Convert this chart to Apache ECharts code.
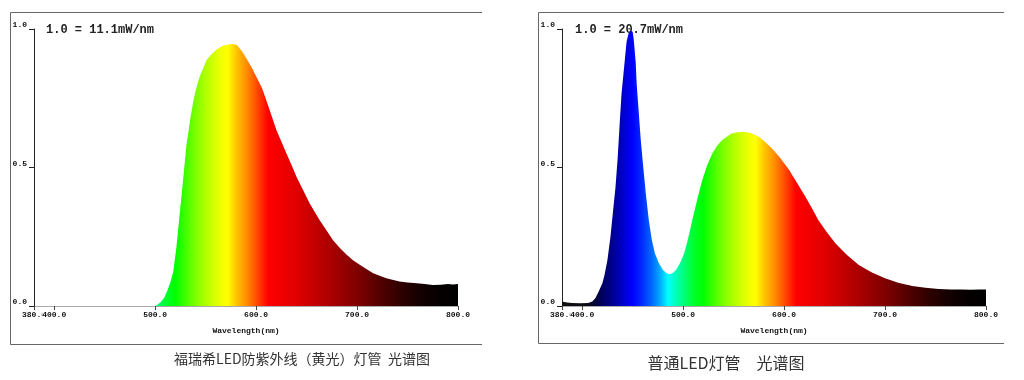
<!DOCTYPE html>
<html>
<head>
<meta charset="utf-8">
<script src="https://cdn.jsdelivr.net/npm/echarts@6/dist/echarts.min.js"></script>
<style>html,body{margin:0;padding:0;background:#fff}#c{width:1024px;height:380px}</style>
</head>
<body>
<div id="c"></div>
<script>
// ---- data (wavelength nm, relative intensity) ----
const leftWavelengths = [380, 500, 503, 506, 509, 512, 515, 518, 521, 524, 527, 531, 535, 538, 541, 544, 548, 551, 556, 561, 566, 572, 577, 581, 586, 591, 596, 601, 606, 610, 615, 620, 625, 630, 635, 640, 647, 653, 658, 663, 670, 676, 683, 690, 696, 703, 710, 716, 723, 729, 736, 742, 750, 759, 767, 775, 783, 790, 795, 800];
const leftValues      = [0,   0,   0.006,0.016,0.03,0.055,0.085,0.125,0.21,0.32,0.43,0.58,0.68,0.744,0.79,0.828,0.862,0.888,0.91,0.926,0.938,0.944,0.946,0.942,0.92,0.89,0.858,0.822,0.785,0.744,0.69,0.636,0.594,0.551,0.51,0.467,0.415,0.371,0.34,0.31,0.272,0.238,0.209,0.184,0.165,0.148,0.132,0.118,0.108,0.1,0.094,0.088,0.085,0.082,0.079,0.076,0.077,0.079,0.078,0.079];
const rightWavelengths = [380, 385, 390, 398, 406, 410, 413, 416, 420, 422, 425, 428, 430, 433, 435, 437, 439, 442, 444, 446, 448, 449, 450, 451, 453, 454, 456, 458, 460, 463, 466, 469, 472, 476, 480, 484, 487, 490, 493, 497, 501, 505, 509, 514, 519, 524, 529, 534, 539, 544, 548, 554, 560, 567, 575, 581, 588, 596, 605, 613, 621, 628, 634, 642, 651, 662, 674, 687, 700, 713, 727, 740, 753, 765, 775, 785, 793, 800];
const rightValues      = [0.016,0.013,0.011,0.01,0.011,0.016,0.028,0.05,0.082,0.11,0.166,0.25,0.322,0.43,0.527,0.65,0.768,0.88,0.955,0.985,0.995,0.997,0.99,0.965,0.88,0.8,0.7,0.6,0.52,0.407,0.31,0.238,0.19,0.154,0.13,0.117,0.115,0.12,0.13,0.155,0.19,0.245,0.31,0.385,0.455,0.51,0.551,0.58,0.6,0.613,0.623,0.627,0.629,0.625,0.611,0.593,0.569,0.535,0.491,0.443,0.395,0.35,0.31,0.268,0.226,0.185,0.148,0.121,0.1,0.084,0.072,0.066,0.061,0.06,0.06,0.059,0.06,0.06];
const xTickValues = [380, 400, 500, 600, 700, 800];
const xLabelValues = [380, 500, 600, 700, 800];
const xLabelValuesExtra = [400];
const leftNote = '1.0 = 11.1mW/nm';
const rightNote = '1.0 = 20.7mW/nm';
const leftCaption = '福瑞希LED防紫外线（黄光）灯管  光谱图';
const rightCaption = '普通LED灯管　光谱图';
const xName = 'Wavelength(nm)';

// ---- style: spectral colour table (nm -> colour) ----
const spectrum = [
  [380,'#111111'],[405,'#0a0a18'],[415,'#000040'],[420,'#000060'],[430,'#000090'],[440,'#0000c8'],
  [450,'#0000ff'],[460,'#0030ff'],[470,'#0070ff'],[478,'#00b4ff'],[485,'#00ffff'],[492,'#00ffc0'],
  [500,'#00ff80'],[510,'#00ff30'],[520,'#00ff00'],[535,'#60ff00'],[550,'#b0ff00'],[565,'#f0ff00'],
  [572,'#ffff00'],[580,'#ffc800'],[590,'#ff9000'],[600,'#ff5000'],[612,'#ff0000'],[640,'#e00000'],
  [660,'#c00000'],[680,'#a00000'],[700,'#800000'],[720,'#580000'],[740,'#340000'],[760,'#160000'],
  [780,'#060000'],[800,'#000000']
];
const XMIN = 380, XMAX = 800;
function gradient(wl) {
  const a = wl[0], b = wl[wl.length - 1];
  const stops = spectrum.filter(s => s[0] >= a && s[0] <= b)
    .map(s => ({offset: (s[0] - a) / (b - a), color: s[1]}));
  return new echarts.graphic.LinearGradient(0, 0, 1, 0, stops);
}
const mono = 'Liberation Mono, DejaVu Sans Mono, monospace';
const labelStyle = {margin: 5, fontFamily: mono, fontSize: 8, fontWeight: 'bold', color: '#111',
  showMinLabel: true, showMaxLabel: true, hideOverlap: false, formatter: v => v.toFixed(1)};
function xAxis(i) {
  return {
    gridIndex: i, type: 'value', min: XMIN, max: XMAX,
    name: xName, nameLocation: 'middle', nameGap: 21,
    nameTextStyle: {fontFamily: mono, fontSize: 8, fontWeight: 'bold', color: '#111'},
    axisLine: {lineStyle: {color: '#aaaaaa', width: 1}},
    axisTick: {show: true, length: 4, customValues: xTickValues, lineStyle: {color: '#444'}},
    axisLabel: Object.assign({customValues: xLabelValues}, labelStyle),
    splitLine: {show: false}
  };
}
function xAxisExtra(i) {
  return {
    gridIndex: i, type: 'value', min: XMIN, max: XMAX, position: 'bottom',
    axisLine: {show: false}, axisTick: {show: false},
    axisLabel: Object.assign({customValues: xLabelValuesExtra, backgroundColor: '#fff'}, labelStyle),
    splitLine: {show: false}
  };
}
function yAxis(i) {
  return {
    gridIndex: i, type: 'value', min: 0, max: 1, interval: 0.5,
    axisLine: {show: true, lineStyle: {color: '#222', width: 1}},
    axisTick: {show: true, length: 5, lineStyle: {color: '#222'}},
    axisLabel: {margin: 7, fontFamily: mono, fontSize: 8, fontWeight: 'bold', color: '#111',
      verticalAlign: 'bottom', formatter: v => v.toFixed(1)},
    splitLine: {show: false}
  };
}
function series(i, wl, vals) {
  return {
    type: 'line', xAxisIndex: i, yAxisIndex: i,
    data: wl.map((w, k) => [w, vals[k]]),
    showSymbol: false, smooth: false,
    lineStyle: {width: 0}, areaStyle: {color: gradient(wl), opacity: 1},
    silent: true, animation: false, z: 3
  };
}
const frameColor = '#666';
const chart = echarts.init(document.getElementById('c'), null, {renderer: 'canvas'});
chart.setOption({
  animation: false,
  grid: [
    {left: 34, top: 29, width: 424, height: 277},
    {left: 562, top: 29, width: 424, height: 277}
  ],
  xAxis: [xAxis(0), xAxis(1), xAxisExtra(0), xAxisExtra(1)],
  yAxis: [yAxis(0), yAxis(1)],
  series: [series(0, leftWavelengths, leftValues), series(1, rightWavelengths, rightValues)],
  graphic: [
    {type: 'polyline', z: 0, shape: {points: [[482, 12.5], [10.5, 12.5], [10.5, 344.5], [482, 344.5]]},
      style: {stroke: frameColor, lineWidth: 1, fill: null}},
    {type: 'polyline', z: 0, shape: {points: [[1004, 12.5], [538.5, 12.5], [538.5, 343.5], [1004, 343.5]]},
      style: {stroke: frameColor, lineWidth: 1, fill: null}},
    {type: 'text', z: 0, left: 46, top: 24, style: {text: leftNote, font: 'bold 12px ' + mono, fill: '#222'}},
    {type: 'text', z: 0, left: 575, top: 24, style: {text: rightNote, font: 'bold 12px ' + mono, fill: '#222'}},
    {type: 'text', z: 0, x: 302, y: 359, style: {text: leftCaption, font: '14px "Noto Sans CJK SC"', fill: '#333', align: 'center', verticalAlign: 'middle'}},
    {type: 'text', z: 0, x: 726, y: 363, style: {text: rightCaption, font: '16px "Noto Sans CJK SC"', fill: '#333', align: 'center', verticalAlign: 'middle'}}
  ]
});
</script>
</body>
</html>
